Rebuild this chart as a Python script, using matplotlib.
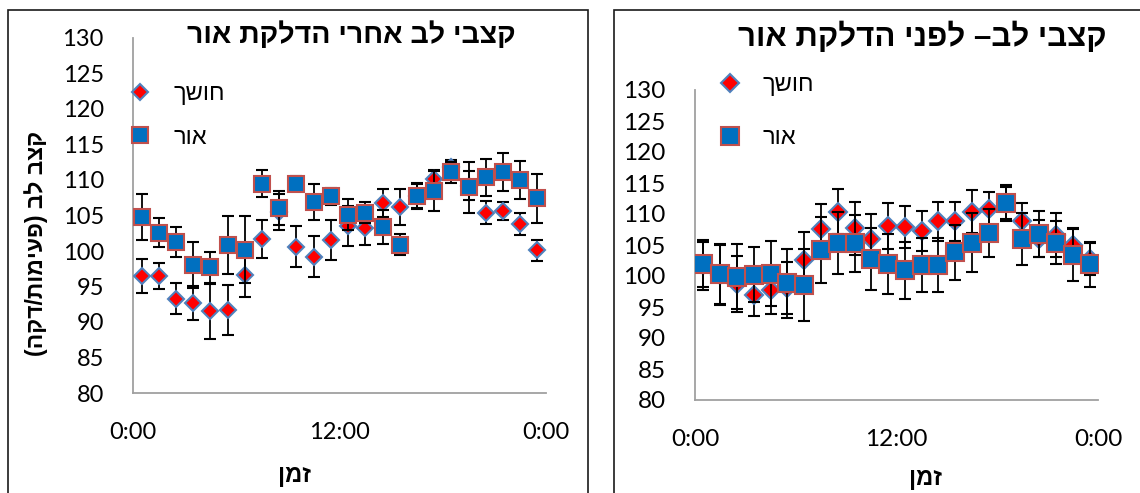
import matplotlib
matplotlib.use("Agg")
import matplotlib.pyplot as plt
from matplotlib.patches import Rectangle

# hour of day (centre of each 1-hour bin)
hours = [0.5, 1.5, 2.5, 3.5, 4.5, 5.5, 6.5, 7.5, 8.5, 9.5, 10.5, 11.5,
         12.5, 13.5, 14.5, 15.5, 16.5, 17.5, 18.5, 19.5, 20.5, 21.5, 22.5, 23.5]

# after lights on
dark_after = [96.5, 96.5, 93.3, 92.7, 91.5, 91.7, 96.6, 101.7, 105.5, 100.6, 99.2, 101.6,
              103.5, 103.2, 106.8, 106.2, 107.8, 110.1, 111.8, 109.2, 105.4, 105.6, 103.8, 100.1]
dark_after_err = [2.4, 1.8, 2.2, 2.4, 3.9, 3.5, 3.1, 2.7, 2.5, 2.9, 2.9, 2.8,
                  2.8, 2.3, 2.0, 2.6, 1.8, 1.3, 1.0, 2.0, 1.6, 1.3, 1.6, 1.5]
light_after = [104.8, 102.6, 101.3, 98.0, 97.7, 100.9, 100.2, 109.5, 106.0, 109.5, 106.9, 107.7,
               105.1, 105.4, 103.4, 100.9, 107.7, 108.4, 111.1, 109.0, 110.4, 111.1, 110.0, 107.4]
light_after_err = [3.2, 2.1, 2.1, 3.2, 2.2, 4.1, 4.7, 1.9, 2.4, 1.0, 2.5, 1.2,
                   2.2, 1.5, 2.4, 1.5, 1.8, 2.8, 1.5, 3.6, 2.6, 2.7, 2.7, 3.4]

# before lights on
dark_before = [101.8, 100.2, 98.7, 96.9, 97.7, 98.0, 102.6, 107.6, 110.4, 107.7, 106.0, 108.1,
               107.9, 107.3, 108.8, 108.8, 110.4, 110.8, 111.8, 108.9, 106.0, 106.6, 105.0, 102.8]
dark_before_err = [4.0, 4.8, 4.5, 3.4, 3.8, 4.2, 4.5, 4.0, 3.7, 4.3, 4.0, 3.7,
                   3.4, 3.2, 3.2, 3.1, 3.4, 2.8, 2.6, 2.9, 3.0, 3.5, 2.8, 2.6]
light_before = [101.9, 100.3, 99.9, 100.2, 100.4, 98.8, 98.5, 104.2, 105.4, 105.3, 102.7, 101.9,
                100.9, 101.8, 101.8, 103.8, 105.4, 106.9, 111.8, 105.9, 106.8, 105.4, 103.4, 101.9]
light_before_err = [3.6, 4.8, 5.3, 4.4, 5.2, 5.5, 5.8, 5.3, 5.0, 4.6, 5.0, 4.8,
                    4.6, 4.4, 4.4, 4.4, 4.7, 3.9, 2.9, 4.2, 3.7, 3.5, 4.2, 3.6]

time_ticks = [0, 12, 24]
time_labels = ["0:00", "12:00", "0:00"]
hr_ticks = [80, 85, 90, 95, 100, 105, 110, 115, 120, 125, 130]

label_dark = "חושך"
label_light = "אור"
title_after = "קצבי לב אחרי הדלקת אור"
title_before = "קצבי לב– לפני הדלקת אור"
ylabel = "קצב לב (פעימות/דקה)"
xlabel = "זמן"

HEB = ["Liberation Sans", "DejaVu Sans"]
NUM = ["Lato", "DejaVu Sans"]


def rtl(s):
    # matplotlib has no bidi layout: reverse to visual order and mirror brackets
    return s[::-1].translate(str.maketrans("()", ")("))


W, H = 1140, 493
fig = plt.figure(figsize=(W / 100, H / 100), dpi=100)

# chart-area borders
fig.patches.append(Rectangle((8 / W, -0.1), 580 / W, 1.1 - 10 / H, transform=fig.transFigure,
                             fill=False, ec="#1a1a1a", lw=1.2))
fig.patches.append(Rectangle((614 / W, -0.1), 600 / W, 1.1 - 10 / H, transform=fig.transFigure,
                             fill=False, ec="#1a1a1a", lw=1.2))

ax1 = fig.add_axes([133 / W, 1 - 393 / H, 413 / W, 355 / H])
ax2 = fig.add_axes([695 / W, 1 - 400 / H, 403 / W, 310 / H])


def draw_panel(ax, dark, dark_err, light, light_err, ms_d, ms_s, tick_size):
    eb_d = ax.errorbar(hours, dark, yerr=dark_err, fmt="D", ms=ms_d, mfc="#ff0000", mec="#4f81bd",
                       mew=1.5, ecolor="black", elinewidth=1.3, capsize=4.5, capthick=1.3, zorder=3)
    eb_l = ax.errorbar(hours, light, yerr=light_err, fmt="s", ms=ms_s, mfc="#0070c0", mec="#c0504d",
                       mew=1.5, ecolor="black", elinewidth=1.3, capsize=4.5, capthick=1.3, zorder=4)
    ax.set_xlim(0, 24)
    ax.set_ylim(80, 130)
    ax.set_xticks(time_ticks)
    ax.set_xticklabels(time_labels)
    ax.set_yticks(hr_ticks)
    for side in ("top", "right"):
        ax.spines[side].set_visible(False)
    for side in ("left", "bottom"):
        ax.spines[side].set_color("#a0a0a0")
        ax.spines[side].set_linewidth(1.3)
    ax.tick_params(axis="both", length=0, labelsize=tick_size)
    ax.tick_params(axis="y", pad=21)
    ax.tick_params(axis="x", pad=21)
    for lab in ax.get_xticklabels() + ax.get_yticklabels():
        lab.set_family(NUM)
    ax.set_xlabel(rtl(xlabel), family=HEB, fontsize=17, fontweight="bold")
    return eb_d, eb_l


d1, l1 = draw_panel(ax1, dark_after, dark_after_err, light_after, light_after_err, 8.5, 12, 17)
d2, l2 = draw_panel(ax2, dark_before, dark_before_err, light_before, light_before_err, 8.8, 13, 17.5)

ax1.xaxis.set_label_coords(0.39, -0.2)
ax2.xaxis.set_label_coords(0.571, -0.215)

ax1.set_ylabel(rtl(ylabel), family=HEB, fontsize=16.5, fontweight="bold")
ax1.yaxis.set_label_coords(-0.205, 0.42)

fig.text(351 / W, 1 - 35 / H, rtl(title_after), family=HEB, fontsize=20.5, fontweight="bold",
         ha="center", va="center")
fig.text(922 / W, 1 - 37 / H, rtl(title_before), family=HEB, fontsize=22.5, fontweight="bold",
         ha="center", va="center")

leg_kw = dict(frameon=False, prop=dict(family=HEB, size=17), handlelength=0.8,
              handletextpad=1.0, borderpad=0, borderaxespad=0, loc="upper left")
ax1.legend([d1[0], l1[0]], [rtl(label_dark), rtl(label_light)], labelspacing=0.9,
           bbox_to_anchor=(-0.005, 0.872), **leg_kw)
ax2.legend([d2[0], l2[0]], [rtl(label_dark), rtl(label_light)], labelspacing=1.3,
           bbox_to_anchor=(0.063, 1.05), **leg_kw)

fig.savefig("out.png", dpi=100)
